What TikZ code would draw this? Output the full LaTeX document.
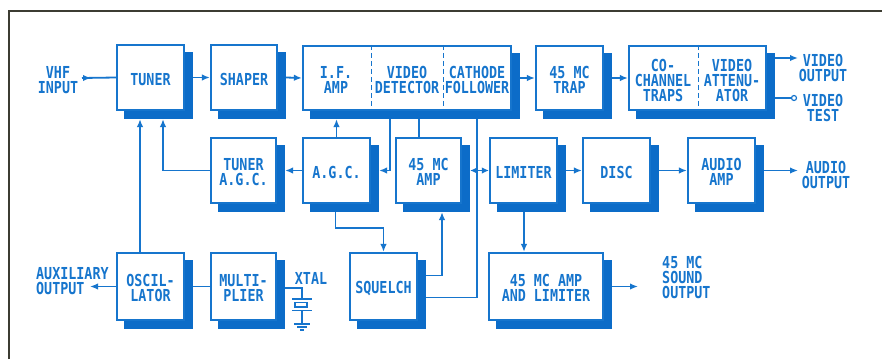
\documentclass[tikz,border=0pt]{standalone}
\usepackage{fontspec}
\newfontfamily\lab{DejaVu Sans Mono}[FakeStretch=0.81]
\usetikzlibrary{calc,arrows.meta}
\definecolor{bl}{RGB}{22,117,205}
\definecolor{shd}{RGB}{12,108,200}
\definecolor{frm}{RGB}{60,60,50}
\newcommand\blk[6]{%
  \fill[shd] (#2+8,#3+8) rectangle (#4+8,#5+8);
  \node[blk, minimum width={#4-#2-2}, minimum height={#5-#3-2}] (#1) at ({(#2+#4)/2},{(#3+#5)/2}) {};
  \node[lbl] (#1t) at (#1.center) {#6};}
\begin{document}
\begin{tikzpicture}[x=1pt,y=-1pt,
  lbl/.style={text=bl, font=\lab\bfseries\fontsize{16.5}{15}\selectfont, align=center, inner sep=0pt, yshift=-1.8pt},
  blk/.style={draw=bl, line width=2.2pt, fill=white, inner sep=0pt},
  ln/.style={draw=bl, line width=1.8pt},
  arr/.style={ln, -{Latex[length=8pt,width=6.5pt]}},
  arrtwo/.style={ln, {Latex[length=7pt,width=6.5pt]}-{Latex[length=7pt,width=6.5pt]}},
  dsh/.style={draw=bl, line width=1pt, dash pattern=on 5pt off 3pt},
  testpt/.style={circle, draw=bl, line width=1.2pt, fill=white, inner sep=0pt, minimum size=5pt}]
\useasboundingbox (0,0) rectangle (882,359);
\fill[white] (0,0) rectangle (882,359);
\draw[frm, line width=2.5pt] (9,359) -- (9,11) -- (882,11);

% blocks
\blk{tuner}{116}{44}{185}{111}{TUNER}
\blk{shaper}{210}{44}{278}{111}{SHAPER}
\blk{ifbox}{302}{45}{512}{111}{}
\blk{trap}{535}{45}{604}{111}{45 MC\\TRAP}
\blk{cochan}{628}{45}{767}{111}{}
\blk{tagc}{210}{137}{277}{204}{TUNER\\A.G.C.}
\blk{agc}{302}{137}{371}{204}{A.G.C.}
\blk{amp45}{395}{137}{462}{204}{45 MC\\AMP}
\blk{limiter}{489}{137}{558}{204}{LIMITER}
\blk{disc}{582}{137}{651}{204}{DISC}
\blk{audio}{687}{137}{756}{204}{AUDIO\\AMP}
\blk{osc}{116}{252}{185}{321}{OSCIL-\\LATOR}
\blk{mult}{210}{252}{277}{321}{MULTI-\\PLIER}
\blk{squelch}{349}{252}{418}{321}{SQUELCH}
\blk{amplim}{488}{252}{604}{321}{45 MC AMP\\AND LIMITER}

% sections of the combined boxes
\node[lbl] (ifamp) at (336,78) {I.F.\\AMP};
\node[lbl] (vdet) at (407,78) {VIDEO\\DETECTOR};
\node[lbl] (cath) at (477,78) {CATHODE\\FOLLOWER};
\draw[dsh] (371,0 |- ifbox.north) -- (371,0 |- ifbox.south);
\draw[dsh] (443,0 |- ifbox.north) -- (443,0 |- ifbox.south);
\node[lbl] (cotr) at (663,79) {CO-\\CHANNEL\\TRAPS};
\node[lbl] (vatt) at (732,79) {VIDEO\\ATTENU-\\ATOR};
\draw[dsh] (698,0 |- cochan.north) -- (698,0 |- cochan.south);

% outside labels
\node[lbl] (vhf) at (58,78) {VHF\\INPUT};
\node[lbl] (vout) at (823,66) {VIDEO\\OUTPUT};
\node[lbl] (vtest) at (823,106) {VIDEO\\TEST};
\node[lbl] (aout) at (826,173) {AUDIO\\OUTPUT};
\node[lbl, align=left, anchor=west] (aux) at (36,279) {AUXILIARY\\OUTPUT};
\node[lbl] (xtal) at (311,277) {XTAL};
\node[lbl, align=left, anchor=west] (sout) at (662,276) {45 MC\\SOUND\\OUTPUT};

% helper coordinates
\coordinate (vin) at (82,78);
\coordinate (ifb) at ($(ifbox.south)+(0,8)$);
\coordinate (tb) at ($(tuner.south)+(0,8)$);
\coordinate (cochanR) at ($(cochan.east)+(8,0)$);
\coordinate (vo) at (798,58);
\node[testpt] (vtc) at (794,98) {};
\coordinate (ao) at (798,170.5);
\coordinate (so) at (638,286.5);
\coordinate (auxo) at (90,286.5);
\coordinate (lb) at ($(limiter.south)+(0.5,8)$);

% row 1
\draw[ln] (vin) -- (tuner.west);
\draw[arr] (vin) -- ++(9,0);
\draw[arr] ($(tuner.east)+(8,0)$) -- (shaper.west);
\draw[arr] ($(shaper.east)+(8,0)$) -- (ifbox.west);
\draw[arr] ($(ifbox.east)+(8,0)$) -- (trap.west);
\draw[arr] ($(trap.east)+(8,0)$) -- (cochan.west);
\draw[arr] (cochanR |- vo) -- (vo);
\draw[ln] (cochanR |- vtc) -- (vtc.west);

% row 2
\draw[arr] (agc.north) -- (agc.north |- ifb);
\draw[arr] (390,0 |- ifb) |- ($(agc.east)+(8,0)$);
\draw[ln] (419,0 |- ifb) -- (419,0 |- amp45.north);
\draw[ln] (477,0 |- ifb) |- ($(squelch.east)+(8,11)$);
\draw[arrtwo] ($(amp45.east)+(8,0)$) -- (limiter.west);
\draw[arr] (agc.west) -- ($(tagc.east)+(8,0)$);
\draw[arr] (tagc.west) -| (163,0 |- tb);
\draw[arr] ($(limiter.east)+(8,0)$) -- (disc.west);
\draw[arr] ($(disc.east)+(8,0)$) -- (audio.west);
\draw[arr] ($(audio.east)+(8,0)$) -- (ao);

% row 3
\draw[arr] (osc.north -| 140,0) -- (140,0 |- tb);
\draw[arr] (osc.west) -- (auxo);
\draw[ln] ($(osc.east)+(8,0)$) -- (mult.west);
\draw[arr] ($(agc.south)+(-1,8)$) -- ++(0,16) -| (squelch.north);
\draw[arr] ($(squelch.east)+(8,-11)$) -| ($(amp45.south)+(13.5,8)$);
\draw[arr] (lb) -- (lb |- amplim.north);
\draw[arr] ($(amplim.east)+(8,0)$) -- (so);

% crystal
\coordinate (xt) at (302,299);
\draw[ln] ($(mult.east)+(8,1.5)$) -| (xt);
\draw[ln] (xt) ++(-10,0) -- ++(20,0);
\draw[bl, line width=1.5pt] (xt) ++(-7,3.5) rectangle ++(12,4.5);
\draw[ln] (xt) ++(-10,11.5) -- ++(20,0);
\draw[ln] (xt) ++(0,11.5) -- ++(0,13.5);
\draw[bl, line width=1.3pt] (xt) ++(-8,25) -- ++(16,0);
\draw[bl, line width=1.3pt] (xt) ++(-5,28) -- ++(10,0);
\draw[bl, line width=1.3pt] (xt) ++(-2,31) -- ++(4,0);
\end{tikzpicture}
\end{document}
